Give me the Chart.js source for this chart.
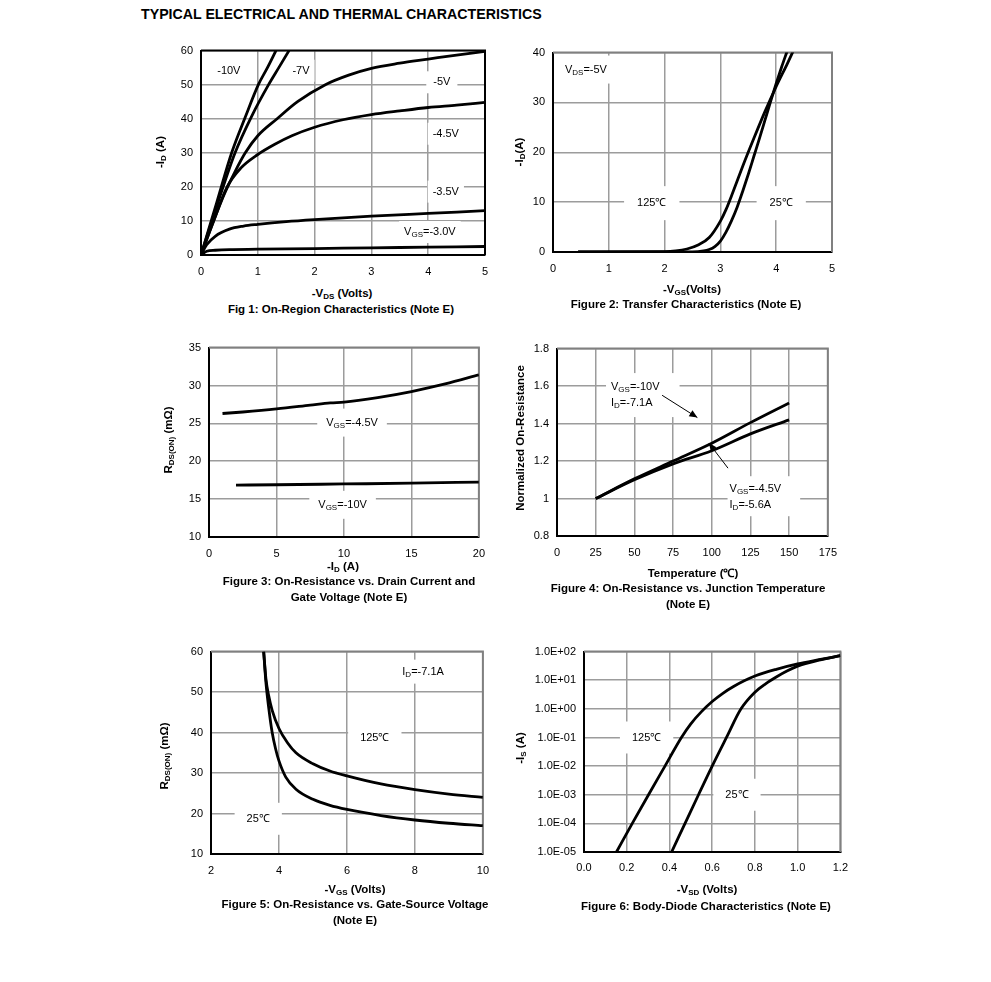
<!DOCTYPE html>
<html><head><meta charset="utf-8">
<script src="https://cdn.jsdelivr.net/npm/chart.js@4.4.1/dist/chart.umd.min.js"></script>
<style>
body{margin:0;background:#fff;width:991px;height:982px;position:relative;overflow:hidden;font-family:"Liberation Sans",Arial,sans-serif;color:#000}
canvas{position:absolute}
.t{position:absolute;white-space:nowrap;font-weight:bold;font-size:11.5px;transform:translate(-50%,-50%);text-align:center;line-height:16px}
.t sub{font-size:8px;vertical-align:-2px;line-height:0}
.r{transform:translate(-50%,-50%) rotate(-90deg)}
</style></head><body>
<div style="position:absolute;left:141px;top:6px;font-weight:bold;font-size:14.2px;white-space:nowrap">TYPICAL ELECTRICAL AND THERMAL CHARACTERISTICS</div>

<canvas id="c1"></canvas><canvas id="c2"></canvas><canvas id="c3"></canvas>
<canvas id="c4"></canvas><canvas id="c5"></canvas><canvas id="c6"></canvas>

<div class="t" style="left:342px;top:293px">-V<sub>DS</sub> (Volts)</div>
<div class="t" style="left:341px;top:309px">Fig 1: On-Region Characteristics (Note E)</div>
<div class="t r" style="left:160px;top:152px">-I<sub>D</sub> (A)</div>

<div class="t" style="left:692px;top:289px">-V<sub>GS</sub>(Volts)</div>
<div class="t" style="left:686px;top:304px">Figure 2: Transfer Characteristics (Note E)</div>
<div class="t r" style="left:519px;top:152px">-I<sub>D</sub>(A)</div>

<div class="t" style="left:343px;top:566px">-I<sub>D</sub> (A)</div>
<div class="t" style="left:349px;top:589px">Figure 3: On-Resistance vs. Drain Current and<br>Gate Voltage (Note E)</div>
<div class="t r" style="left:168px;top:440px">R<sub>DS(ON)</sub> (mΩ)</div>

<div class="t" style="left:693px;top:573px">Temperature (℃)</div>
<div class="t" style="left:688px;top:596px">Figure 4: On-Resistance vs. Junction Temperature<br>(Note E)</div>
<div class="t r" style="left:520px;top:438px">Normalized On-Resistance</div>

<div class="t" style="left:355px;top:889px">-V<sub>GS</sub> (Volts)</div>
<div class="t" style="left:355px;top:912px">Figure 5: On-Resistance vs. Gate-Source Voltage<br>(Note E)</div>
<div class="t r" style="left:164px;top:756px">R<sub>DS(ON)</sub> (mΩ)</div>

<div class="t" style="left:707px;top:889px">-V<sub>SD</sub> (Volts)</div>
<div class="t" style="left:706px;top:906px">Figure 6: Body-Diode Characteristics (Note E)</div>
<div class="t r" style="left:520px;top:748px">-I<sub>S</sub> (A)</div>

<script>
// ================= DATA =================
// Fig 1: -ID (A) vs -VDS (V), per VGS
const f1XTicks = [0,1,2,3,4,5];
const f1YTicks = [0,10,20,30,40,50,60];
const f1_vgs10  = [[0,0],[0.27,15],[0.54,30],[0.78,40.5],[1.01,50],[1.17,55],[1.32,60]];
const f1_vgs7   = [[0,0],[0.3,15.5],[0.6,30],[0.9,41],[1.19,50],[1.37,55],[1.55,60]];
const f1_vgs5   = [[0,0],[0.2,9],[0.4,17.5],[0.6,24.5],[0.78,30],[1.0,35],[1.34,40],[1.7,45],[2.19,50],[2.6,52.8],[3,54.8],[3.5,56.3],[4,57.5],[4.5,58.7],[5,59.8]];
const f1_vgs45  = [[0,0],[0.2,9],[0.46,20],[0.7,25.5],[1.0,29.5],[1.3,32.5],[1.6,35],[2,37.5],[2.5,39.7],[3,41.2],[3.5,42.3],[4,43.3],[4.5,44],[5,44.8]];
const f1_vgs35  = [[0,0],[0.1,3],[0.25,5.5],[0.5,7.6],[0.75,8.5],[1,9],[1.5,9.8],[2,10.4],[3,11.4],[4,12.2],[5,13]];
const f1_vgs30  = [[0,0],[0.1,1.1],[0.25,1.4],[0.5,1.6],[1,1.7],[2,1.9],[3,2.1],[4,2.3],[5,2.5]];

// Fig 2: transfer characteristics
const f2XTicks = [0,1,2,3,4,5];
const f2YTicks = [0,10,20,30,40];
const f2_t25  = [[0.45,0],[2.5,0],[2.7,0.2],[2.8,0.5],[2.9,1.1],[3.0,2.2],[3.1,4],[3.2,6.3],[3.3,9],[3.4,12.2],[3.5,15.6],[3.6,19.2],[3.7,22.8],[3.8,26.5],[3.9,30.2],[4.0,33.8],[4.1,37.2],[4.2,40.4]];
const f2_t125 = [[0.45,0],[2.0,0.05],[2.2,0.2],[2.4,0.6],[2.6,1.4],[2.8,2.9],[3.0,6.2],[3.1,8.5],[3.2,11.3],[3.4,17.2],[3.6,22.8],[3.8,28.2],[4.0,33.2],[4.2,37.8],[4.3,40.2]];

// Fig 3: RDS(ON) vs -ID
const f3XTicks = [0,5,10,15,20];
const f3YTicks = [10,15,20,25,30,35];
const f3_vgs45 = [[1,26.3],[2.5,26.5],[5,26.9],[7.5,27.4],[9,27.7],[10,27.8],[12.5,28.4],[15,29.2],[17.5,30.2],[20,31.4]];
const f3_vgs10 = [[2,16.85],[5,16.9],[10,17.0],[15,17.1],[20,17.25]];

// Fig 4: normalized on-resistance vs temperature
const f4XTicks = [0,25,50,75,100,125,150,175];
const f4YTicks = [0.8,1,1.2,1.4,1.6,1.8];
const f4_vgs10 = [[25,1.0],[50,1.105],[75,1.2],[100,1.295],[125,1.405],[150,1.51]];
const f4_vgs45 = [[25,1.0],[50,1.1],[75,1.185],[100,1.255],[125,1.345],[150,1.42]];

// Fig 5: RDS(ON) vs -VGS
const f5XTicks = [2,4,6,8,10];
const f5YTicks = [10,20,30,40,50,60];
const f5_t25  = [[3.55,60],[3.62,52],[3.7,46],[3.8,40],[3.9,36],[4.0,33],[4.2,29],[4.5,26],[5,23.5],[5.5,22],[6,21],[7,19.5],[8,18.4],[9,17.6],[10,17]];
const f5_t125 = [[3.55,60],[3.62,53],[3.7,49],[3.8,45.5],[4.0,41],[4.25,37.5],[4.5,35],[5,32.3],[5.5,30.5],[6,29.3],[7,27.3],[8,25.9],[9,24.8],[10,24]];

// Fig 6: body diode, -IS (A) log vs -VSD
const f6XTicks = [0,0.2,0.4,0.6,0.8,1.0,1.2];
const f6YTicks = [1e-5,1e-4,1e-3,1e-2,1e-1,1e0,1e1,1e2];
const f6_t125 = [[0.152,1e-5],[0.226,1e-4],[0.302,1e-3],[0.379,1e-2],[0.456,1e-1],[0.5,0.3],[0.55,0.8],[0.6,1.8],[0.65,3.5],[0.7,6],[0.75,9.5],[0.8,14],[0.9,24],[1.0,37],[1.1,52],[1.2,72]];
const f6_t25  = [[0.41,1e-5],[0.473,1e-4],[0.536,1e-3],[0.6,1e-2],[0.667,1e-1],[0.735,1],[0.8,3.8],[0.85,7.5],[0.9,13],[0.95,21],[1.0,31],[1.1,50],[1.2,72]];

// ================= RENDERING =================
Chart.defaults.font.family = "'Liberation Sans', Arial, sans-serif";
Chart.defaults.font.size = 11;
Chart.defaults.color = '#000';

const MAINF = "11px 'Liberation Sans', Arial, sans-serif";
const SUBF  = "8px 'Liberation Sans', Arial, sans-serif";
const YW = 70, XH = 30, PT = 12, PR = 16;

function measure(ctx, segs) {
  let w = 0;
  segs.forEach(([t, sub]) => { ctx.font = sub ? SUBF : MAINF; w += ctx.measureText(t).width; });
  return w;
}

const deco = {
  id: 'deco',
  beforeDatasetsDraw(chart, args, o) {
    const {ctx, chartArea: a, scales: {x, y}} = chart;
    ctx.save();
    if (o.frame) {
      ctx.strokeStyle = o.frame; ctx.lineWidth = 2;
      ctx.beginPath(); ctx.moveTo(a.left, a.top); ctx.lineTo(a.right, a.top); ctx.lineTo(a.right, a.bottom); ctx.stroke();
    }
    (o.labels || []).forEach(lb => {
      const px = x.getPixelForValue(lb.x), py = y.getPixelForValue(lb.y);
      const lh = 16;
      const widths = lb.lines.map(s => measure(ctx, s));
      const w = Math.max(...widths), h = lb.lines.length * lh;
      const [pl, pr, pt, pb] = lb.pad || o.pad;
      const left = lb.align === 'left' ? px : px - w / 2;
      const top = py - h / 2;
      ctx.fillStyle = '#fff';
      ctx.fillRect(left - pl, top - pt, w + pl + pr, h + pt + pb);
      ctx.fillStyle = '#000';
      ctx.textBaseline = 'middle'; ctx.textAlign = 'left';
      lb.lines.forEach((segs, i) => {
        let cx = lb.align === 'left' ? left : px - widths[i] / 2;
        const cy = top + lh * i + lh / 2;
        segs.forEach(([t, sub]) => {
          ctx.font = sub ? SUBF : MAINF;
          ctx.fillText(t, cx, cy + (sub ? 3 : 0));
          cx += ctx.measureText(t).width;
        });
      });
    });
    ctx.restore();
  },
  afterDatasetsDraw(chart, args, o) {
    const {ctx, scales: {x, y}} = chart;
    ctx.save();
    ctx.strokeStyle = '#000'; ctx.fillStyle = '#000'; ctx.lineWidth = 1;
    (o.arrows || []).forEach(ar => {
      const x1 = x.getPixelForValue(ar.x1), y1 = y.getPixelForValue(ar.y1);
      const x2 = x.getPixelForValue(ar.x2), y2 = y.getPixelForValue(ar.y2);
      ctx.beginPath(); ctx.moveTo(x1, y1); ctx.lineTo(x2, y2); ctx.stroke();
      const an = Math.atan2(y2 - y1, x2 - x1), L = 8, W = 3.5;
      ctx.beginPath();
      ctx.moveTo(x2, y2);
      ctx.lineTo(x2 - L * Math.cos(an) + W * Math.sin(an), y2 - L * Math.sin(an) - W * Math.cos(an));
      ctx.lineTo(x2 - L * Math.cos(an) - W * Math.sin(an), y2 - L * Math.sin(an) + W * Math.cos(an));
      ctx.closePath(); ctx.fill();
    });
    ctx.restore();
  }
};

function axis(ticks, isY, extra) {
  return Object.assign({
    type: 'linear', min: ticks[0], max: ticks[ticks.length - 1],
    afterBuildTicks: ax => { ax.ticks = ticks.map(v => ({value: v})); },
    afterFit: ax => { if (isY) ax.width = YW; else ax.height = XH; },
    grid: {color: '#9c9c9c', lineWidth: 1.5, drawTicks: false},
    border: {color: '#000', width: 2},
    ticks: {padding: isY ? 8 : 10, color: '#000', font: {size: 11}, callback: v => String(+(+v).toFixed(2))}
  }, extra || {});
}

function ds(pts) {
  return {data: pts.map(([x, y]) => ({x, y})), showLine: true, borderColor: '#000', borderWidth: 2.8,
          pointRadius: 0, fill: false, cubicInterpolationMode: 'monotone'};
}

function make(id, L, T, R, B, series, xs, ys, decoOpts) {
  const c = document.getElementById(id);
  c.width = R - L + YW + PR; c.height = B - T + PT + XH;
  c.style.left = (L - YW) + 'px'; c.style.top = (T - PT) + 'px';
  new Chart(c, {
    type: 'scatter',
    data: {datasets: series.map(ds)},
    options: {
      responsive: false, animation: false, devicePixelRatio: 1,
      layout: {padding: {top: PT, right: PR, left: 0, bottom: 0}},
      plugins: {legend: {display: false}, tooltip: {enabled: false}, deco: decoOpts},
      scales: {x: xs, y: ys}
    },
    plugins: [deco]
  });
}

const S = (t) => [t, false], U = (t) => [t, true];

make('c1', 201, 48, 485, 255,
  [f1_vgs10, f1_vgs7, f1_vgs5, f1_vgs45, f1_vgs35, f1_vgs30],
  axis(f1XTicks, false), axis(f1YTicks, true),
  {frame: '#000', pad: [5, 5, 3, 3], labels: [
    {x: 0.49, y: 54.1, lines: [[S('-10V')]]},
    {x: 1.76, y: 54.1, lines: [[S('-7V')]]},
    {x: 4.24, y: 50.7, lines: [[S('-5V')]], pad: [7, 7, 3, 3]},
    {x: 4.31, y: 35.6, lines: [[S('-4.5V')]]},
    {x: 4.31, y: 18.6, lines: [[S('-3.5V')]]},
    {x: 4.03, y: 6.75, lines: [[S('V'), U('GS'), S('=-3.0V')]]}
  ]});

make('c2', 553, 50, 832, 252,
  [f2_t25, f2_t125],
  axis(f2XTicks, false), axis(f2YTicks, true),
  {frame: '#808080', pad: [13, 13, 9, 9], labels: [
    {x: 0.59, y: 36.6, lines: [[S('V'), U('DS'), S('=-5V')]], pad: [6, 8, 6, 6]},
    {x: 1.77, y: 9.8, lines: [[S('125℃')]]},
    {x: 4.09, y: 9.8, lines: [[S('25℃')]]}
  ]});

make('c3', 209, 345, 479, 537,
  [f3_vgs45, f3_vgs10],
  axis(f3XTicks, false), axis(f3YTicks, true),
  {frame: '#808080', pad: [9, 9, 6, 6], labels: [
    {x: 10.6, y: 25.1, lines: [[S('V'), U('GS'), S('=-4.5V')]]},
    {x: 9.9, y: 14.25, lines: [[S('V'), U('GS'), S('=-10V')]]}
  ]});

make('c4', 557, 346, 831, 536,
  [f4_vgs10, f4_vgs45],
  axis(f4XTicks, false), axis(f4YTicks, true),
  {frame: '#808080', pad: [5, 5, 4, 4], labels: [
    {x: 34.9, y: 1.552, align: 'left', pad: [5, 20, 6, 6], lines: [[S('V'), U('GS'), S('=-10V')], [S('I'), U('D'), S('=-7.1A')]]},
    {x: 111.5, y: 1.007, align: 'left', pad: [2, 19, 5, 3], lines: [[S('V'), U('GS'), S('=-4.5V')], [S('I'), U('D'), S('=-5.6A')]]}
  ], arrows: [
    {x1: 67.9, y1: 1.551, x2: 90.7, y2: 1.432},
    {x1: 110.5, y1: 1.162, x2: 98.1, y2: 1.296}
  ]});

make('c5', 211, 649, 483, 854,
  [f5_t25, f5_t125],
  axis(f5XTicks, false), axis(f5YTicks, true),
  {frame: '#808080', pad: [12, 12, 8, 8], labels: [
    {x: 8.24, y: 55.05, lines: [[S('I'), U('D'), S('=-7.1A')]], pad: [6, 6, 4, 4]},
    {x: 6.82, y: 38.6, lines: [[S('125℃')]]},
    {x: 3.39, y: 18.7, lines: [[S('25℃')]]}
  ]});

const fmtE = v => { const e = Math.round(Math.log10(v)); return '1.0E' + (e < 0 ? '-' : '+') + String(Math.abs(e)).padStart(2, '0'); };
make('c6', 584, 649, 841, 852,
  [f6_t125, f6_t25],
  axis(f6XTicks, false, {ticks: {padding: 9, color: '#000', font: {size: 11}, callback: v => (+v).toFixed(1)}}),
  axis(f6YTicks, true, {type: 'logarithmic', ticks: {padding: 8, color: '#000', font: {size: 11}, callback: v => fmtE(v)}}),
  {frame: '#808080', pad: [12, 12, 8, 8], labels: [
    {x: 0.293, y: 0.1, lines: [[S('125℃')]]},
    {x: 0.716, y: 1e-3, lines: [[S('25℃')]]}
  ]});
</script>
</body></html>
